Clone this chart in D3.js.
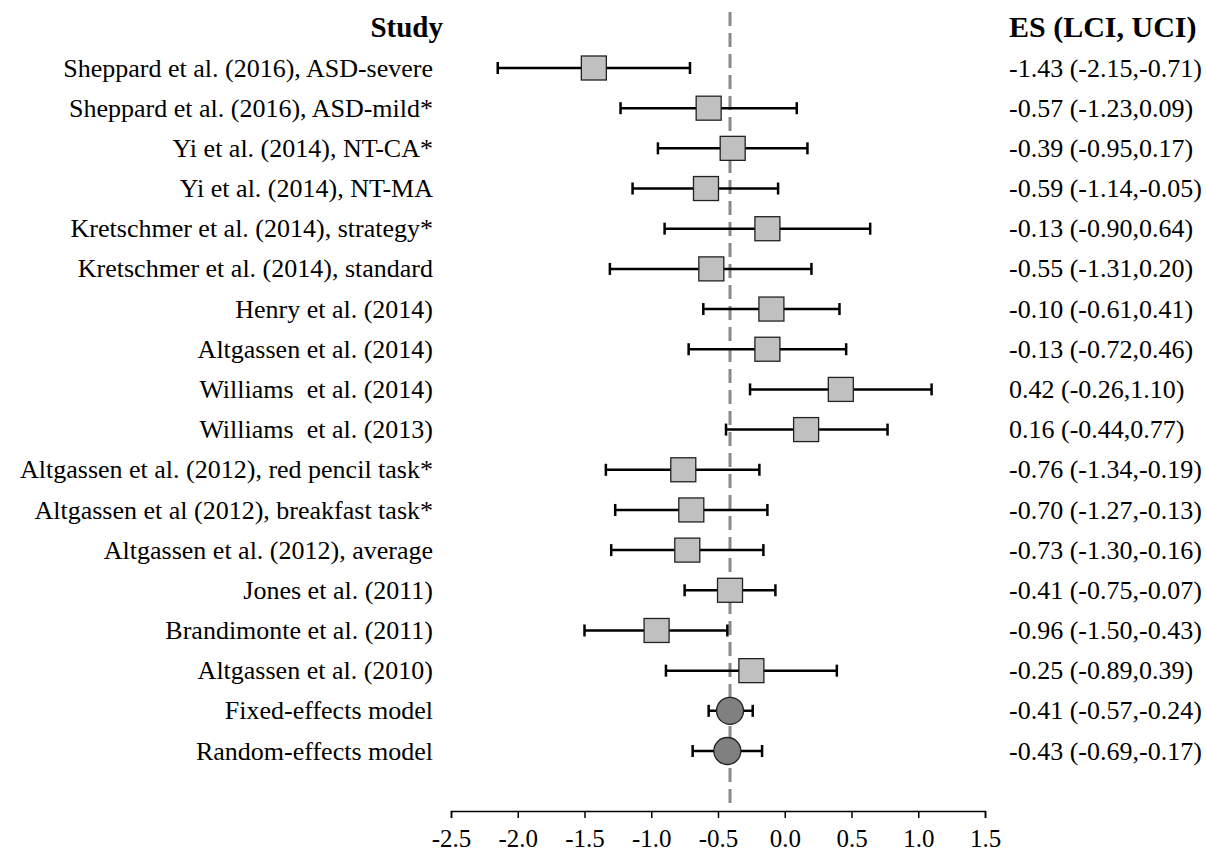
<!DOCTYPE html>
<html><head><meta charset="utf-8">
<script src="https://cdn.jsdelivr.net/npm/d3@7"></script>
<style>body{margin:0;background:#fff}svg{display:block}text{white-space:pre}</style>
</head><body>
<script>
const studies = ["Sheppard et al. (2016), ASD-severe","Sheppard et al. (2016), ASD-mild*","Yi et al. (2014), NT-CA*","Yi et al. (2014), NT-MA","Kretschmer et al. (2014), strategy*","Kretschmer et al. (2014), standard","Henry et al. (2014)","Altgassen et al. (2014)","Williams  et al. (2014)","Williams  et al. (2013)","Altgassen et al. (2012), red pencil task*","Altgassen et al (2012), breakfast task*","Altgassen et al. (2012), average","Jones et al. (2011)","Brandimonte et al. (2011)","Altgassen et al. (2010)","Fixed-effects model","Random-effects model"];
const es  = [-1.43,-0.57,-0.39,-0.59,-0.13,-0.55,-0.10,-0.13,0.42,0.16,-0.76,-0.70,-0.73,-0.41,-0.96,-0.25,-0.41,-0.43];
const lci = [-2.15,-1.23,-0.95,-1.14,-0.90,-1.31,-0.61,-0.72,-0.26,-0.44,-1.34,-1.27,-1.30,-0.75,-1.50,-0.89,-0.57,-0.69];
const uci = [-0.71,0.09,0.17,-0.05,0.64,0.20,0.41,0.46,1.10,0.77,-0.19,-0.13,-0.16,-0.07,-0.43,0.39,-0.24,-0.17];
const esLabels = ["-1.43 (-2.15,-0.71)","-0.57 (-1.23,0.09)","-0.39 (-0.95,0.17)","-0.59 (-1.14,-0.05)","-0.13 (-0.90,0.64)","-0.55 (-1.31,0.20)","-0.10 (-0.61,0.41)","-0.13 (-0.72,0.46)","0.42 (-0.26,1.10)","0.16 (-0.44,0.77)","-0.76 (-1.34,-0.19)","-0.70 (-1.27,-0.13)","-0.73 (-1.30,-0.16)","-0.41 (-0.75,-0.07)","-0.96 (-1.50,-0.43)","-0.25 (-0.89,0.39)","-0.41 (-0.57,-0.24)","-0.43 (-0.69,-0.17)"];
const isModel = [0,0,0,0,0,0,0,0,0,0,0,0,0,0,0,0,1,1];
const xTicks = [-2.5,-2.0,-1.5,-1.0,-0.5,0.0,0.5,1.0,1.5];
const refLine = -0.41;

const W=1206,H=854;
const svg=d3.select("body").append("svg").attr("width",W).attr("height",H);
const x=d3.scaleLinear().domain([-2.5,1.5]).range([451,985]);
const y=d3.scalePoint().domain(d3.range(studies.length)).range([68,751]);
const font="'Liberation Serif','Times New Roman',serif";

// reference dashed line
svg.append("line").attr("x1",x(refLine)).attr("x2",x(refLine)).attr("y1",12).attr("y2",805)
  .attr("stroke","#8a8a8a").attr("stroke-width",3).attr("stroke-dasharray","14,7");

// axis
const ax=svg.append("g").attr("transform","translate(0,811)")
  .call(d3.axisBottom(x).tickValues(xTicks).tickFormat(d3.format(".1f")).tickSize(7).tickSizeOuter(7));
ax.select(".domain").attr("stroke","#000").attr("stroke-width",1.5);
ax.selectAll(".tick line").attr("stroke","#000").attr("stroke-width",1.5);
ax.selectAll(".tick text").attr("font-family",font).attr("font-size",25).attr("fill","#000").attr("y",0).attr("dy","1.45em")
  .text(d=>d3.format(".1f")(d).replace("−","-"));

const rows=svg.append("g").selectAll("g").data(studies.map((s,i)=>i)).join("g");
const cap=6;
rows.append("line").attr("x1",i=>x(lci[i])).attr("x2",i=>x(uci[i])).attr("y1",i=>y(i)).attr("y2",i=>y(i)).attr("stroke","#000").attr("stroke-width",2.5);
rows.append("line").attr("x1",i=>x(lci[i])).attr("x2",i=>x(lci[i])).attr("y1",i=>y(i)-cap).attr("y2",i=>y(i)+cap).attr("stroke","#000").attr("stroke-width",2.5);
rows.append("line").attr("x1",i=>x(uci[i])).attr("x2",i=>x(uci[i])).attr("y1",i=>y(i)-cap).attr("y2",i=>y(i)+cap).attr("stroke","#000").attr("stroke-width",2.5);
rows.filter(i=>!isModel[i]).append("rect").attr("x",i=>x(es[i])-12.5).attr("y",i=>y(i)-12).attr("width",25).attr("height",24)
  .attr("fill","#c0c0c0").attr("stroke","#222").attr("stroke-width",1.3);
rows.filter(i=>isModel[i]).append("circle").attr("cx",i=>x(es[i])).attr("cy",i=>y(i)).attr("r",13.5)
  .attr("fill","#808080").attr("stroke","#222").attr("stroke-width",1.3);

rows.append("text").attr("x",433).attr("y",i=>y(i)).attr("dy","0.33em").attr("text-anchor","end")
  .attr("font-family",font).attr("font-size",26).attr("fill","#000").text(i=>studies[i]);
rows.append("text").attr("x",1009).attr("y",i=>y(i)).attr("dy","0.33em")
  .attr("font-family",font).attr("font-size",26).attr("fill","#000").text(i=>esLabels[i]);

svg.append("text").attr("x",443).attr("y",37).attr("text-anchor","end").attr("font-family",font)
  .attr("font-size",29).attr("font-weight","bold").text("Study");
svg.append("text").attr("x",1009).attr("y",37).attr("font-family",font)
  .attr("font-size",30).attr("font-weight","bold").text("ES (LCI, UCI)");
</script>
</body></html>
